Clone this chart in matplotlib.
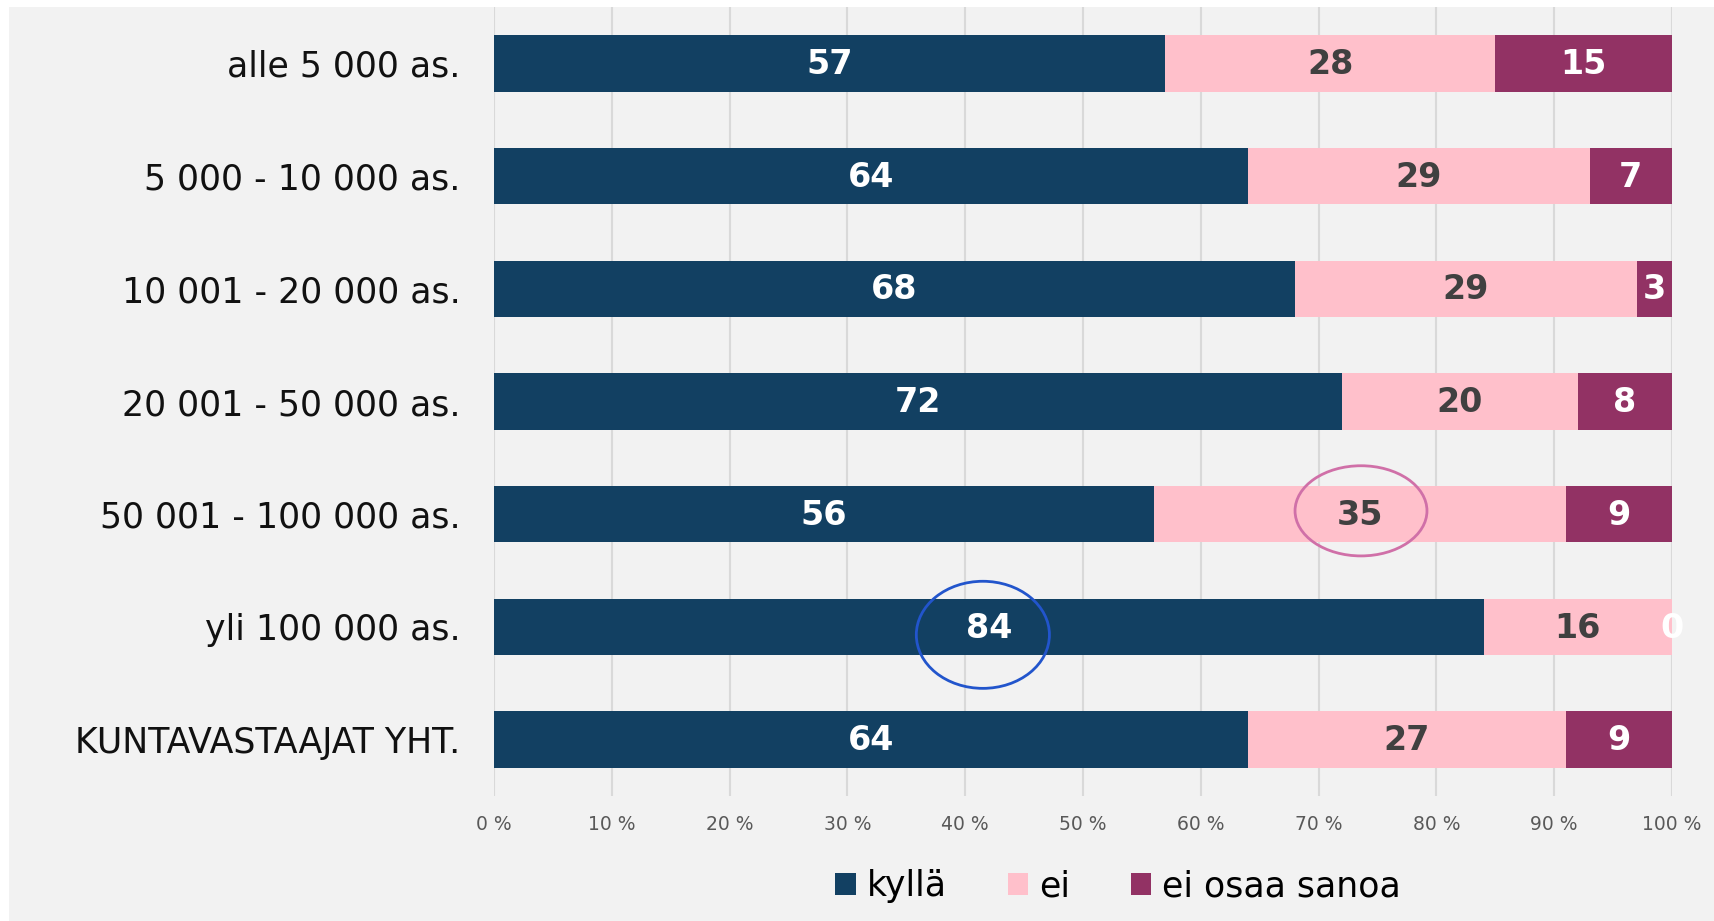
import numpy as np
import matplotlib.pyplot as plt
from matplotlib.patches import Ellipse, Rectangle

# Ryhmät ja osuudet (%)
ryhmat = ['alle 5 000 as.', '5 000 - 10 000 as.', '10 001 - 20 000 as.',
          '20 001 - 50 000 as.', '50 001 - 100 000 as.', 'yli 100 000 as.',
          'KUNTAVASTAAJAT YHT.']
kylla = [57, 64, 68, 72, 56, 84, 64]
ei = [28, 29, 29, 20, 35, 16, 27]
ei_osaa = [15, 7, 3, 8, 9, 0, 9]
sarjat = ['kyllä', 'ei', 'ei osaa sanoa']
x_ticks = [0, 10, 20, 30, 40, 50, 60, 70, 80, 90, 100]

varit = ['#124062', '#FFC0CB', '#923264']
tekstivarit = ['white', '#404040', 'white']

plt.rcParams['font.family'] = ['DejaVu Sans']

fig = plt.figure(figsize=(17.14, 9.21), dpi=100)
fig.patch.set_facecolor('white')
# harmaa tausta
fig.patches.append(Rectangle((9 / 1714, 0), 1, 1 - 7 / 921, transform=fig.transFigure,
                             facecolor='#F2F2F2', edgecolor='none', zorder=-10))

ax = fig.add_axes([494 / 1714, 1 - 796 / 921, (1672 - 494) / 1714, (796 - 7) / 921])
ax.set_facecolor('none')

y = np.arange(len(ryhmat))
vasen = np.zeros(len(ryhmat))
for arvot, nimi, vari, tvari in zip([kylla, ei, ei_osaa], sarjat, varit, tekstivarit):
    arvot = np.array(arvot, dtype=float)
    ax.barh(y, arvot, left=vasen, height=0.5, color=vari, label=nimi, zorder=3)
    for yi, v, l in zip(y, arvot, vasen):
        ax.text(l + v / 2, yi + 0.01, f'{int(v)}', ha='center', va='center', color=tvari,
                fontsize=24, fontweight='bold', zorder=5)
    vasen += arvot

ax.set_xlim(0, 100)
ax.set_ylim(len(ryhmat) - 0.5, -0.5)
ax.set_yticks(y)
ax.set_yticklabels(ryhmat, fontsize=25, color='#111111')
ax.set_xticks(x_ticks)
ax.set_xticklabels([f'{t} %' for t in x_ticks], fontsize=13.5, color='#595959')
ax.tick_params(axis='y', length=0, pad=24)
ax.tick_params(axis='x', length=0, pad=14)
ax.grid(axis='x', color='#D9D9D9', linewidth=1.5, zorder=0)
for s in ax.spines.values():
    s.set_visible(False)

# korostusympyrät
ax.add_patch(Ellipse((73.6, 3.97), 11.2, 0.80, fill=False, edgecolor='#D070A8',
                     linewidth=2, zorder=6, clip_on=False))
ax.add_patch(Ellipse((41.5, 5.07), 11.3, 0.95, fill=False, edgecolor='#2255CC',
                     linewidth=2, zorder=6, clip_on=False))

fig.legend(loc='center', bbox_to_anchor=(1118 / 1714, 1 - 886 / 921), ncol=3,
           frameon=False, fontsize=25, handlelength=0.6, handleheight=0.6,
           handletextpad=0.3, columnspacing=1.75)

fig.savefig('out.png', dpi=100, facecolor=fig.get_facecolor())
